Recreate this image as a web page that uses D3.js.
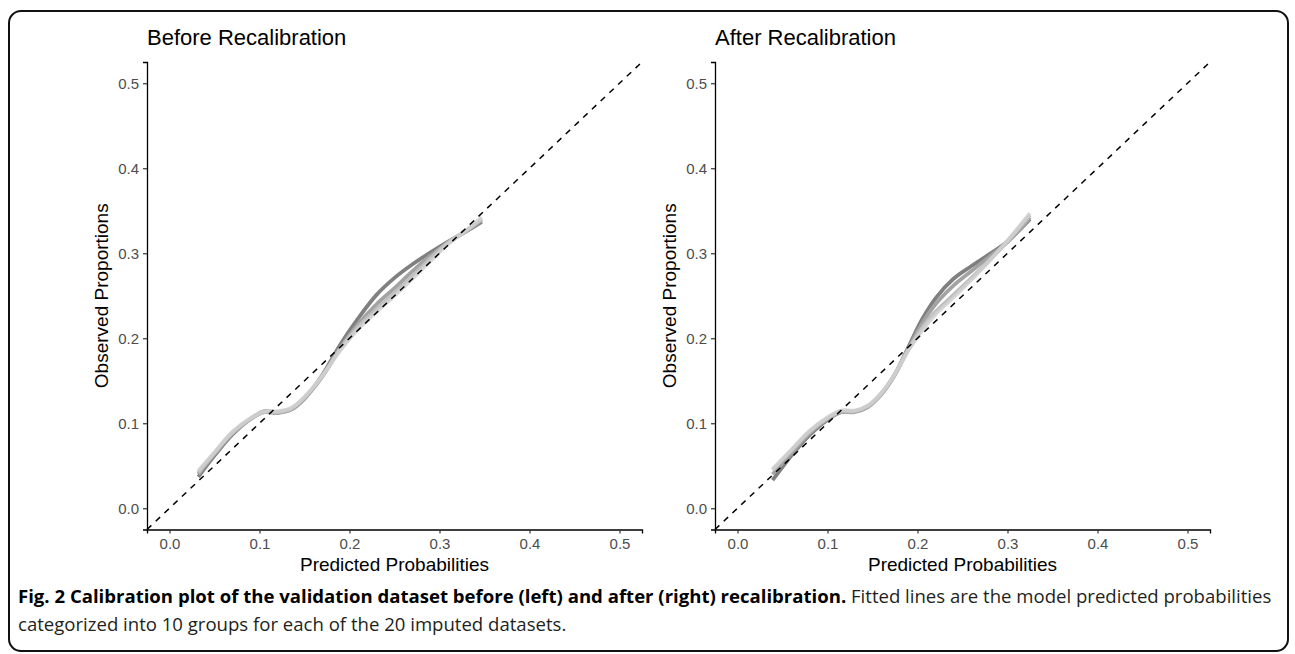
<!DOCTYPE html>
<html>
<head>
<meta charset="utf-8">
<script src="https://cdn.jsdelivr.net/npm/d3@7/dist/d3.min.js"></script>
<style>
  body { margin: 0; background: #fff; }
  text { font-family: "Liberation Sans", Arial, sans-serif; }
</style>
</head>
<body>
<div id="chart"></div>
<script>
const width = 1295;
const height = 654;

const ticks = [0, 0.1, 0.2, 0.3, 0.4, 0.5];
const panelTitles = ['Before Recalibration', 'After Recalibration'];
const xTitle = 'Predicted Probabilities';
const yTitle = 'Observed Proportions';

// before recalibration: a few of the imputed fits
const beforeX     = [0.032, 0.05, 0.07, 0.09, 0.105, 0.12, 0.135, 0.15, 0.17, 0.19, 0.21, 0.23, 0.25, 0.27, 0.29, 0.31, 0.33, 0.347];
const beforeDark  = [0.037, 0.062, 0.087, 0.105, 0.114, 0.113, 0.116, 0.129, 0.157, 0.193, 0.224, 0.251, 0.271, 0.287, 0.301, 0.314, 0.326, 0.337];
const beforeMid   = [0.040, 0.064, 0.088, 0.105, 0.113, 0.112, 0.116, 0.129, 0.155, 0.189, 0.217, 0.240, 0.259, 0.279, 0.297, 0.313, 0.326, 0.339];
const beforeLight = [0.042, 0.065, 0.089, 0.105, 0.113, 0.113, 0.117, 0.130, 0.156, 0.188, 0.214, 0.234, 0.253, 0.273, 0.294, 0.313, 0.327, 0.340];
const beforePale  = [0.044, 0.066, 0.090, 0.106, 0.114, 0.114, 0.118, 0.131, 0.156, 0.186, 0.211, 0.231, 0.250, 0.270, 0.291, 0.311, 0.327, 0.342];

// after recalibration
const afterX     = [0.039, 0.06, 0.08, 0.10, 0.115, 0.13, 0.145, 0.16, 0.175, 0.19, 0.205, 0.22, 0.24, 0.26, 0.28, 0.30, 0.325];
const afterDark  = [0.033, 0.062, 0.086, 0.104, 0.113, 0.114, 0.120, 0.135, 0.158, 0.190, 0.222, 0.247, 0.270, 0.285, 0.299, 0.314, 0.340];
const afterMid   = [0.040, 0.065, 0.088, 0.105, 0.113, 0.113, 0.119, 0.134, 0.157, 0.188, 0.217, 0.240, 0.262, 0.279, 0.296, 0.313, 0.342];
const afterLight = [0.045, 0.068, 0.090, 0.106, 0.114, 0.114, 0.120, 0.135, 0.158, 0.187, 0.212, 0.231, 0.251, 0.271, 0.292, 0.314, 0.345];
const afterPale  = [0.046, 0.069, 0.091, 0.107, 0.115, 0.115, 0.121, 0.136, 0.158, 0.186, 0.209, 0.228, 0.248, 0.269, 0.291, 0.315, 0.347];

const greys = ['#808080', '#a3a3a3', '#bebebe', '#d0d0d0'];

const captionBold = 'Fig. 2 Calibration plot of the validation dataset before (left) and after (right) recalibration.';
const captionRest = ' Fitted lines are the model predicted probabilities';
const captionLine2 = 'categorized into 10 groups for each of the 20 imputed datasets.';

const panels = [
    { left: 147, xs: beforeX, series: [beforeDark, beforeMid, beforeLight, beforePale] },
    { left: 715, xs: afterX, series: [afterDark, afterMid, afterLight, afterPale] }
];
const panelW = 495;
const plotTop = 62;
const plotBottom = 529.5;

const svg = d3.select('#chart')
    .append('svg')
    .attr('width', width)
    .attr('height', height);

// frame
svg.append('rect')
    .attr('x', 9).attr('y', 11)
    .attr('width', 1279).attr('height', 640)
    .attr('rx', 12)
    .attr('fill', 'none')
    .attr('stroke', '#111')
    .attr('stroke-width', 2);

panels.forEach((p, i) => {
    const x = d3.scaleLinear().domain([-0.025, 0.525]).range([p.left, p.left + panelW]);
    const y = d3.scaleLinear().domain([-0.025, 0.525]).range([plotBottom, plotTop]);
    const g = svg.append('g');

    // fitted lines
    const line = d3.line()
        .x(d => x(d[0]))
        .y(d => y(d[1]))
        .curve(d3.curveCatmullRom);
    p.series.forEach((s, k) => {
        g.append('path')
            .datum(p.xs.map((v, j) => [v, s[j]]))
            .attr('d', line)
            .attr('fill', 'none')
            .attr('stroke', greys[k])
            .attr('stroke-opacity', k === 3 ? 0.85 : 1)
            .attr('stroke-width', 3.8)
            .attr('stroke-linecap', 'butt');
    });

    // reference diagonal
    g.append('line')
        .attr('x1', x(-0.025)).attr('y1', y(-0.025))
        .attr('x2', x(0.525)).attr('y2', y(0.525))
        .attr('stroke', '#000')
        .attr('stroke-width', 1.5)
        .attr('stroke-dasharray', '6,6');

    // axes
    const xAxis = g.append('g')
        .attr('transform', `translate(0,${plotBottom})`)
        .call(d3.axisBottom(x).tickValues(ticks).tickFormat(d3.format('.1f')).tickSizeOuter(0).tickSize(4).tickPadding(5));
    const yAxis = g.append('g')
        .attr('transform', `translate(${p.left},0)`)
        .call(d3.axisLeft(y).tickValues(ticks).tickFormat(d3.format('.1f')).tickSizeOuter(0).tickSize(4).tickPadding(4));
    [xAxis, yAxis].forEach(a => {
        a.attr('font-size', 15).attr('font-family', '"Liberation Sans", Arial, sans-serif');
        a.select('.domain').attr('stroke', '#000').attr('stroke-width', 1.3);
        a.selectAll('.tick line').attr('stroke', '#333').attr('stroke-width', 1.2);
        a.selectAll('.tick text').attr('fill', '#4d4d4d');
    });

    g.append('text')
        .attr('x', p.left)
        .attr('y', 45)
        .style('font-size', '22px')
        .attr('fill', '#000')
        .text(panelTitles[i]);

    g.append('text')
        .attr('x', p.left + panelW / 2)
        .attr('y', 571)
        .attr('text-anchor', 'middle')
        .style('font-size', '19px')
        .text(xTitle);

    g.append('text')
        .attr('transform', `translate(${p.left - 39},${(plotTop + plotBottom) / 2}) rotate(-90)`)
        .attr('text-anchor', 'middle')
        .style('font-size', '19px')
        .text(yTitle);
});

// caption
const cap = svg.append('text')
    .attr('x', 18)
    .attr('y', 603)
    .style('font-family', '"Open Sans", "Noto Sans", sans-serif')
    .style('font-size', '16px')
    .attr('fill', '#231f20');
cap.append('tspan').attr('font-weight', 'bold').attr('fill', '#000').text(captionBold);
cap.append('tspan').text(captionRest);
const fit = 16 * 1254 / cap.node().getComputedTextLength();
cap.style('font-size', fit + 'px');

svg.append('text')
    .attr('x', 18)
    .attr('y', 631)
    .style('font-family', '"Open Sans", "Noto Sans", sans-serif')
    .style('font-size', fit + 'px')
    .attr('fill', '#231f20')
    .text(captionLine2);
</script>
</body>
</html>
